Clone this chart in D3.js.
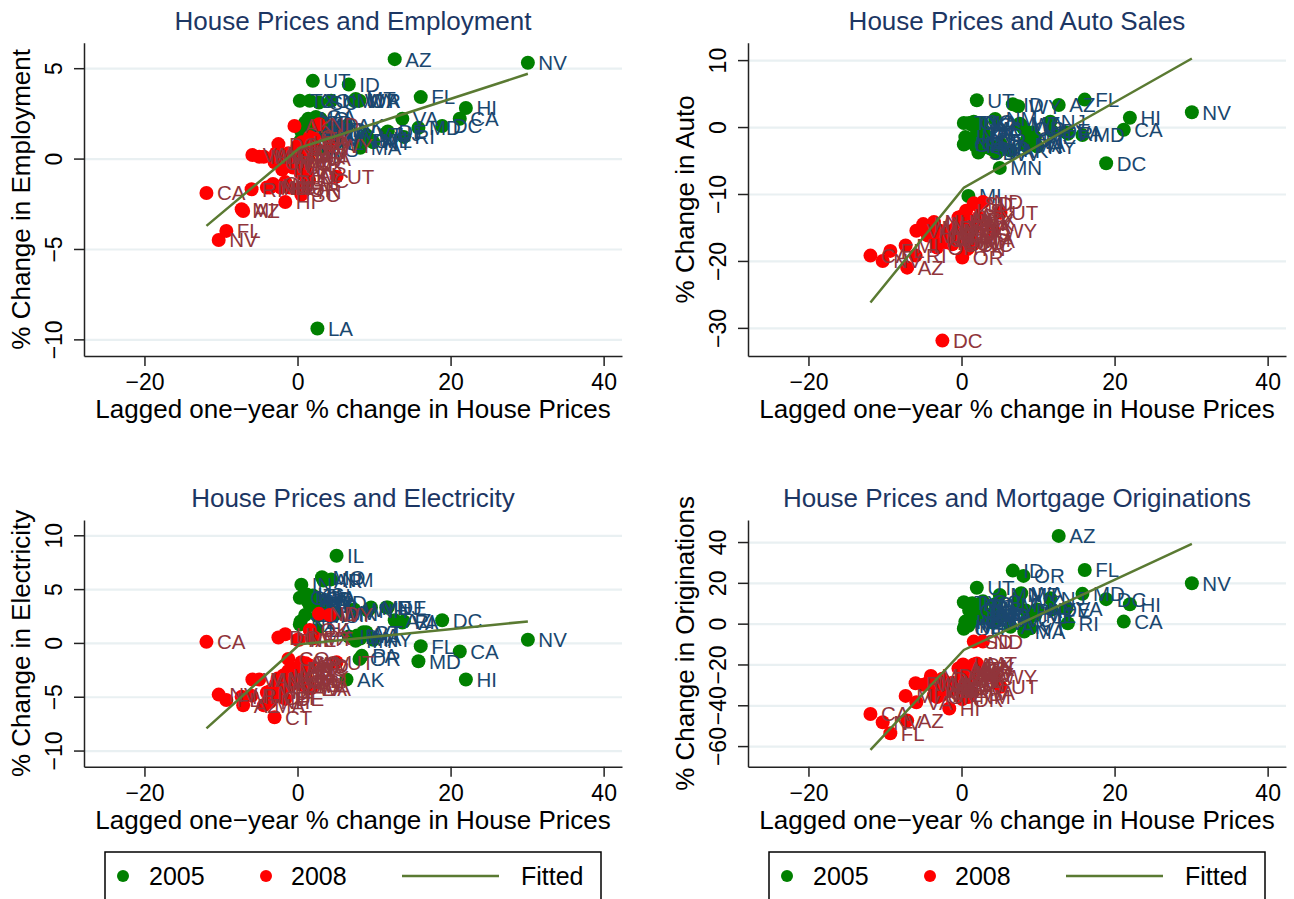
<!DOCTYPE html>
<html><head><meta charset="utf-8">
<script src="https://cdn.jsdelivr.net/npm/d3@7"></script>
<style>
body{margin:0;background:#fff}
svg{display:block}
text{font-family:"Liberation Sans",Arial,Helvetica,sans-serif}
</style>
</head><body>
<svg id="chart" width="1294" height="899"></svg>
<script>
// ---------------- DATA ----------------
const states = ["AL","AK","AZ","AR","CA","CO","CT","DE","DC","FL","GA","HI","ID","IL","IN","IA","KS","KY","LA","ME","MD","MA","MI","MN","MS","MO","MT","NE","NV","NH","NJ","NM","NY","NC","ND","OH","OK","OR","PA","RI","SC","SD","TN","TX","UT","VT","VA","WA","WV","WI","WY"];
// lagged one-year % change in house prices
const hp05 = [3.0,6.4,12.7,3.4,21.2,1.6,8.6,11.8,18.9,16.1,2.4,22.0,6.7,5.1,0.5,1.8,1.2,2.2,2.6,9.6,15.8,8.2,0.9,5.0,2.6,3.2,7.6,0.4,30.1,9.2,11.6,4.4,9.9,1.4,3.8,0.3,1.0,8.1,8.4,13.9,2.8,2.2,2.0,0.3,2.0,9.0,13.7,7.8,4.6,4.1,7.4];
const hp08 = [1.2,-0.4,-7.1,0.8,-11.9,-1.2,-3.0,-1.6,-2.5,-9.3,-1.0,-1.6,1.0,-2.0,-2.2,0.2,0.6,0.4,1.8,-2.6,-4.0,-4.4,-7.3,-5.0,1.0,-1.2,2.0,0.0,-10.3,-3.6,-3.4,0.9,-2.8,1.5,2.8,-3.2,1.6,0.1,-0.2,-6.0,0.5,1.6,0.8,2.2,5.1,-0.6,-5.9,1.4,1.1,-1.8,4.2];
// % change in employment
const emp05 = [2.2,1.8,5.5,1.6,2.2,3.2,1.0,1.5,1.8,3.4,2.3,2.8,4.1,0.9,1.5,1.3,1.1,1.4,-9.4,1.0,1.7,0.6,0.1,1.0,0.5,1.3,3.3,1.0,5.3,1.1,1.4,3.2,0.9,2.2,1.6,0.3,2.0,3.2,1.0,1.2,3.1,2.0,1.8,3.2,4.3,1.3,2.2,3.2,1.5,1.1,3.2];
const emp08 = [-0.9,1.8,-2.9,-0.3,-1.9,0.3,-0.2,-1.3,0.8,-4.0,-1.6,-2.4,-1.0,-0.6,-1.6,0.4,0.9,-0.8,1.0,-0.1,-1.6,0.1,-2.8,0.1,-0.5,-0.3,0.6,0.7,-4.5,-1.6,-1.5,0.2,0.3,-1.2,1.9,-1.4,1.2,-1.7,0.0,-1.7,-2.0,0.9,-1.8,1.1,-1.0,-0.5,0.2,0.0,0.4,-0.4,0.7];
// % change in auto sales
const auto05 = [-1.0,-3.5,3.3,-2.0,-0.4,0.8,-1.8,-0.6,-5.4,4.1,-0.8,1.4,3.4,-2.5,-1.5,-2.8,-2.2,-1.2,0.5,-1.5,-1.2,-2.6,-10.3,-6.1,-0.3,-3.0,0.5,-2.5,2.2,-0.8,0.8,1.2,-2.9,0.3,-3.2,-2.6,0.6,-0.2,-2.8,-1.0,-0.5,-3.8,-1.0,0.6,4.0,-2.2,-0.8,0.3,-3.9,-3.4,3.1];
const auto08 = [-15.0,-13.5,-21.0,-14.0,-19.2,-17.5,-16.8,-16.0,-31.9,-18.5,-17.0,-16.5,-15.5,-17.2,-16.5,-13.2,-12.5,-15.2,-14.8,-15.8,-15.0,-16.2,-17.7,-14.5,-16.0,-15.5,-11.6,-13.8,-20.0,-14.2,-16.8,-16.8,-15.5,-17.5,-11.2,-18.0,-14.5,-19.5,-15.0,-19.2,-17.3,-11.4,-18.2,-13.5,-12.8,-14.8,-15.5,-17.0,-14.0,-16.0,-15.5];
// % change in electricity
const elec05 = [3.0,-3.4,2.1,5.8,-0.8,3.5,1.0,3.3,2.1,-0.3,4.2,-3.4,0.6,8.1,5.4,4.0,4.5,3.6,1.2,3.3,-1.7,0.4,4.2,2.7,2.5,6.1,0.2,2.0,0.3,3.0,3.3,5.9,0.3,3.8,3.7,4.2,2.6,-1.5,-1.2,2.0,3.4,4.1,4.4,1.7,4.0,1.0,1.9,0.7,2.8,2.6,3.1];
const elec08 = [-3.5,-2.5,-5.8,-2.0,0.1,-1.5,-6.9,-5.2,0.5,-5.3,-4.0,0.8,-2.8,-3.2,-4.5,0.3,-3.9,-2.2,-4.2,-3.3,-4.6,-5.8,-5.0,-3.4,-3.0,-2.6,0.4,0.3,-4.8,-5.5,-4.4,-3.5,-3.8,-2.3,2.7,-5.1,1.2,-3.6,-2.4,-4.9,-1.8,-2.1,-3.9,0.5,-1.8,-3.6,-3.4,-4.2,-1.9,-3.0,2.6];
// % change in mortgage originations
const mort05 = [5.0,-1.5,43.0,3.0,1.0,8.5,2.0,7.0,12.0,26.3,6.0,9.5,26.0,3.5,1.0,2.0,0.5,3.0,2.5,4.0,14.6,-3.9,-1.0,14.1,7.5,4.5,14.0,-1.5,19.8,5.0,12.4,9.5,7.0,10.0,4.0,-2.5,6.5,23.4,6.5,0.2,11.0,5.5,9.0,10.5,17.6,-2.3,7.5,14.9,2.0,0.5,11.0];
const mort08 = [-25,-22,-47.5,-22,-44.3,-30,-34,-33,-27,-53.7,-32,-41.6,-28,-31,-33,-20,-24,-26,-21,-35,-25.6,-29,-35.4,-30,-24,-29,-19.5,-23,-48.3,-35,-33,-36,-30,-27,-8.8,-36,-20,-37,-28,-29.2,-28,-8.8,-30,-22,-30.9,-31,-38.5,-34,-25,-31,-26];
// fitted piecewise-linear lines (x, fitted y)
const fitX = [-11.9, 0.3, 30.1];
const fitEmp  = [-3.72, 0.6, 4.69];
const fitAuto = [-26.2, -9.07, 10.24];
const fitElec = [-7.94, -0.12, 2.0];
const fitMort = [-61.9, -12.9, 39.1];
// ticks
const xTicks = [-20, 0, 20, 40];
const empTicks = [-10, -5, 0, 5];
const autoTicks = [-30, -20, -10, 0, 10];
const elecTicks = [-10, -5, 0, 5, 10];
const mortTicks = [-60, -40, -20, 0, 20, 40];
const legendLabels = ["2005", "2008", "Fitted"];
const xTitle = "Lagged one\u2212year % change in House Prices";

// ---------------- STYLE ----------------
const C = {green:"#008000", red:"#ff0000", lab05:"#1a476f", lab08:"#90353b",
           fit:"#5a7a32", title:"#1c3663", grid:"#e9f0f2", axis:"#222"};
const xDomain = [-27.9, 42.4];

const panels = [
  {title:"House Prices and Employment", ylab:"% Change in Employment", y05:emp05, y08:emp08, fit:fitEmp,
   ticks:empTicks, yDomain:[-10.92, 6.41], left:84, right:622, top:42.7, bottom:356, titleY:30, legend:false},
  {title:"House Prices and Auto Sales", ylab:"% Change in Auto", y05:auto05, y08:auto08, fit:fitAuto,
   ticks:autoTicks, yDomain:[-34.2, 12.6], left:748, right:1286, top:42.7, bottom:356, titleY:30, legend:false},
  {title:"House Prices and Electricity", ylab:"% Change in Electricity", y05:elec05, y08:elec08, fit:fitElec,
   ticks:elecTicks, yDomain:[-11.5, 11.42], left:84, right:622, top:520, bottom:766.7, titleY:507, legend:true},
  {title:"House Prices and Mortgage Originations", ylab:"% Change in Originations", y05:mort05, y08:mort08, fit:fitMort,
   ticks:mortTicks, yDomain:[-70.1, 50.8], left:748, right:1286, top:520, bottom:766.7, titleY:507, legend:true}
];

const svg = d3.select("#chart");
svg.append("rect").attr("width",1294).attr("height",899).attr("fill","#fff");

panels.forEach(p => {
  const g = svg.append("g");
  const x = d3.scaleLinear().domain(xDomain).range([p.left, p.right]);
  const y = d3.scaleLinear().domain(p.yDomain).range([p.bottom, p.top]);
  const cx = (p.left + p.right) / 2, cy = (p.top + p.bottom) / 2;

  // gridlines
  const grid = g.append("g").attr("transform", `translate(${p.left},0)`)
    .call(d3.axisLeft(y).tickValues(p.ticks).tickSize(-(p.right - p.left)).tickFormat(""));
  grid.select(".domain").remove();
  grid.selectAll("line").attr("stroke", C.grid).attr("stroke-width", 2.2);

  // title
  g.append("text").attr("x", cx).attr("y", p.titleY).attr("text-anchor","middle")
    .attr("font-size", 26).attr("fill", C.title).text(p.title);

  // x axis
  const xa = g.append("g").attr("transform", `translate(0,${p.bottom})`)
    .call(d3.axisBottom(x).tickValues(xTicks).tickSize(10).tickSizeOuter(0));
  xa.attr("font-family", null).attr("font-size", null);
  xa.select(".domain").attr("stroke", C.axis).attr("stroke-width", 1.5);
  xa.selectAll(".tick line").attr("stroke", C.axis).attr("stroke-width", 1.5);
  xa.selectAll(".tick text").attr("y", 34).attr("dy", null).attr("font-size", 23).attr("fill", "#000");
  g.append("text").attr("x", cx).attr("y", p.bottom + 62).attr("text-anchor","middle")
    .attr("font-size", 26).attr("fill","#000").text(xTitle);

  // y axis
  const ya = g.append("g").attr("transform", `translate(${p.left},0)`)
    .call(d3.axisLeft(y).tickValues(p.ticks).tickSize(10).tickSizeOuter(0));
  ya.attr("font-family", null).attr("font-size", null);
  ya.select(".domain").attr("stroke", C.axis).attr("stroke-width", 1.5);
  ya.selectAll(".tick line").attr("stroke", C.axis).attr("stroke-width", 1.5);
  ya.selectAll(".tick text").attr("x", 0).attr("y", -22.3).attr("dy", null)
    .attr("text-anchor", "middle").attr("transform", "rotate(-90)")
    .attr("font-size", 23).attr("fill", "#000");
  const ylx = p.left - 54;
  g.append("text").attr("x", ylx).attr("y", cy).attr("text-anchor","middle")
    .attr("transform", `rotate(-90,${ylx},${cy})`)
    .attr("font-size", 26).attr("fill","#000").text(p.ylab);

  // series
  const series = [
    {xs: hp05, ys: p.y05, fill: C.green, lab: C.lab05},
    {xs: hp08, ys: p.y08, fill: C.red, lab: C.lab08}
  ];
  series.forEach(s => {
    const sg = g.append("g");
    const data = states.map((st, i) => ({st, xv: s.xs[i], yv: s.ys[i]}));
    sg.selectAll("circle").data(data).join("circle")
      .attr("cx", d => x(d.xv)).attr("cy", d => y(d.yv)).attr("r", 7).attr("fill", s.fill);
    sg.selectAll("text").data(data).join("text")
      .attr("x", d => x(d.xv) + 10.5).attr("y", d => y(d.yv)).attr("dy", "0.36em")
      .attr("font-size", 20.5).attr("fill", s.lab).text(d => d.st);
  });

  // fitted line
  const fitData = fitX.map((xv, i) => [xv, p.fit[i]]);
  g.append("path").datum(fitData)
    .attr("d", d3.line().x(d => x(d[0])).y(d => y(d[1])))
    .attr("fill","none").attr("stroke", C.fit).attr("stroke-width", 2.5);

  // legend
  if (p.legend) {
    const lx = cx - 248, ly = 852;
    const lg = g.append("g").attr("transform", `translate(${lx},${ly})`);
    lg.append("rect").attr("x", 0).attr("y", 0).attr("width", 496).attr("height", 60)
      .attr("fill", "#fff").attr("stroke", "#000").attr("stroke-width", 1.5);
    const my = 24;
    lg.append("circle").attr("cx", 18).attr("cy", my).attr("r", 6).attr("fill", C.green);
    lg.append("text").attr("x", 44).attr("y", my).attr("dy","0.36em").attr("font-size", 25).text(legendLabels[0]);
    lg.append("circle").attr("cx", 161).attr("cy", my).attr("r", 6).attr("fill", C.red);
    lg.append("text").attr("x", 186).attr("y", my).attr("dy","0.36em").attr("font-size", 25).text(legendLabels[1]);
    lg.append("line").attr("x1", 297).attr("x2", 394).attr("y1", my).attr("y2", my)
      .attr("stroke", C.fit).attr("stroke-width", 2.5);
    lg.append("text").attr("x", 416).attr("y", my).attr("dy","0.36em").attr("font-size", 25).text(legendLabels[2]);
  }
});
</script>
</body></html>
